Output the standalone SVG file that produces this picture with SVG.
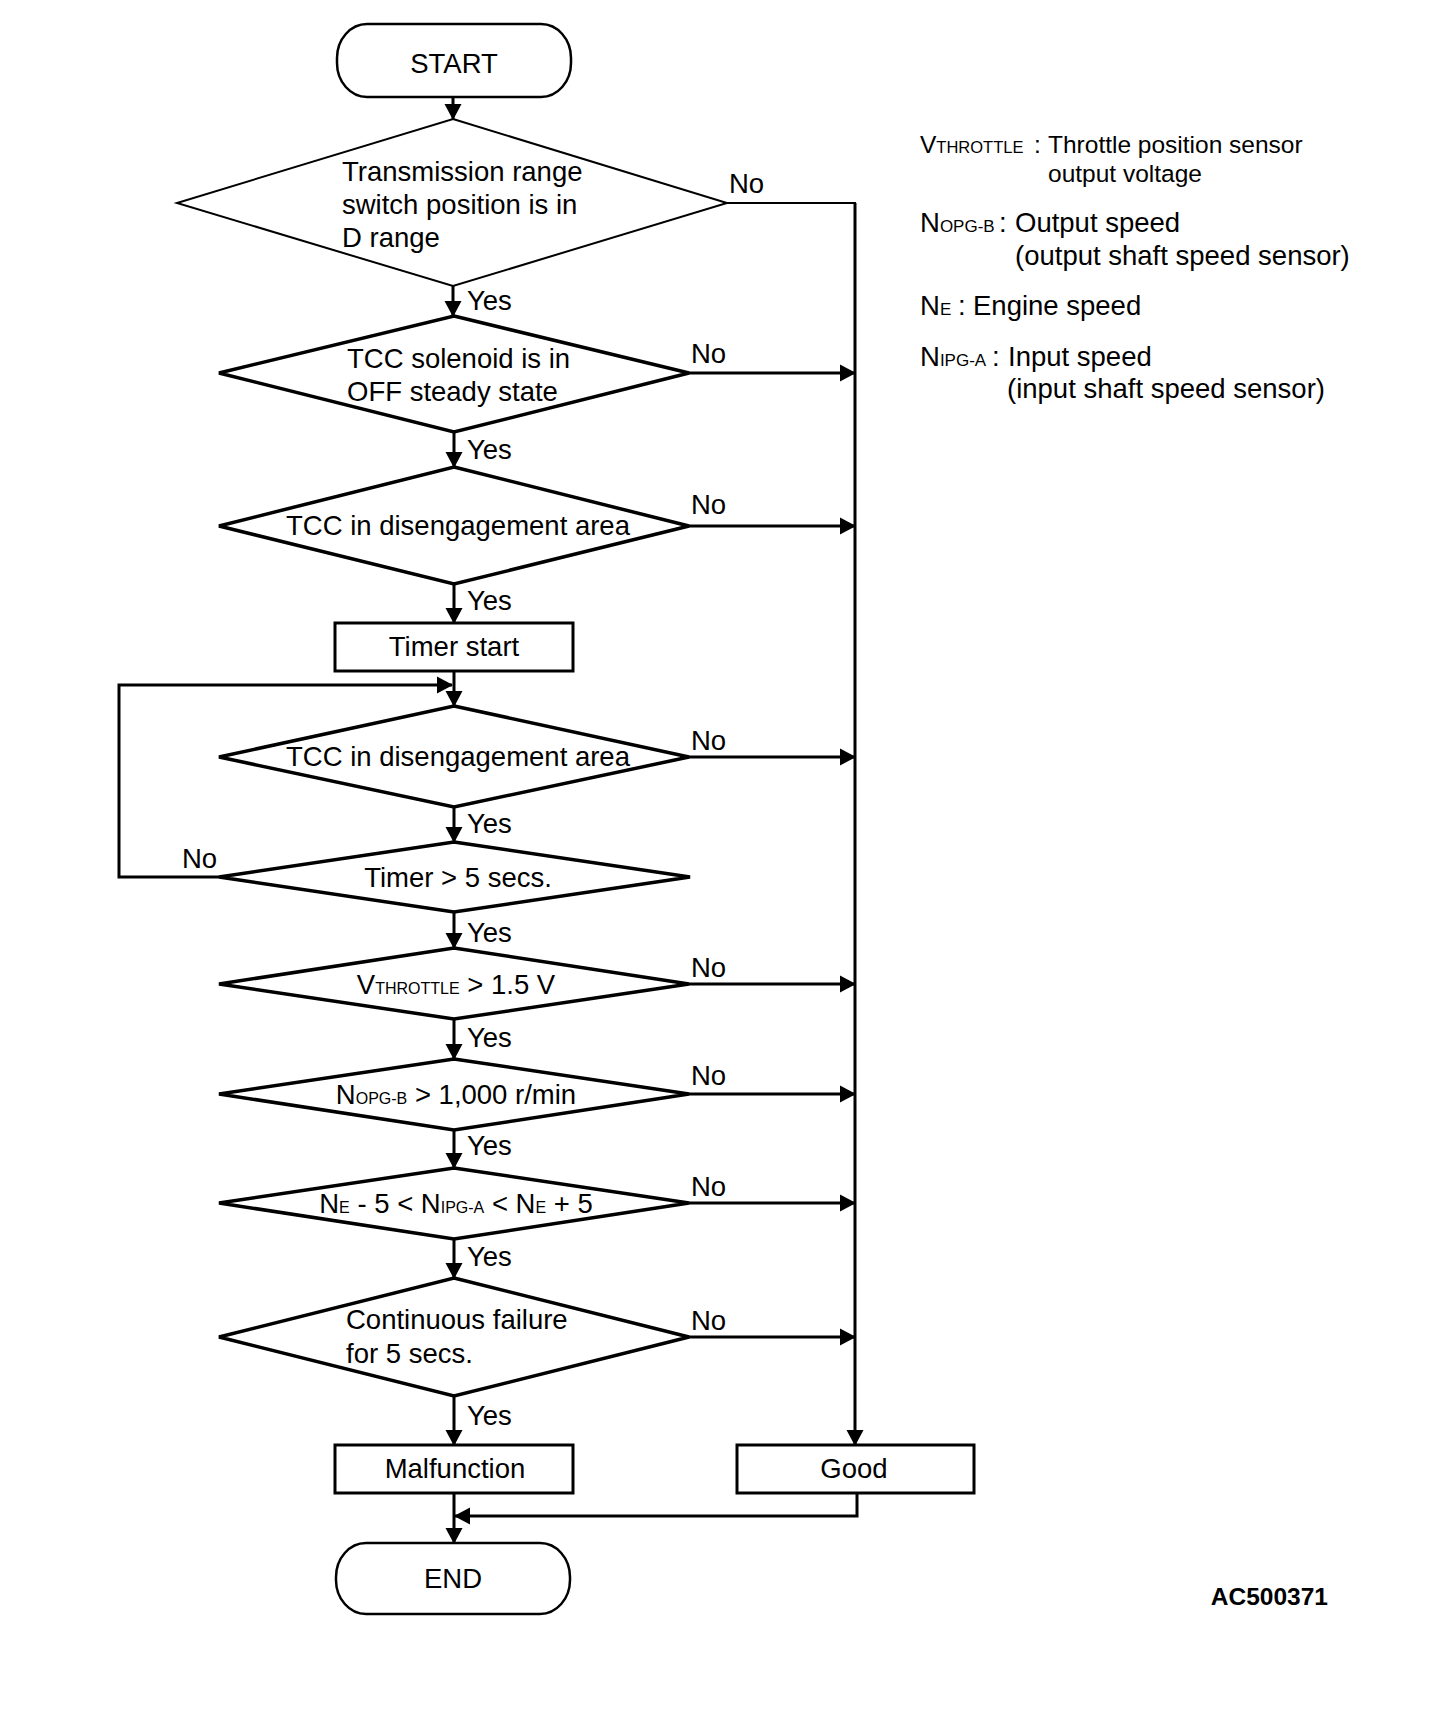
<svg xmlns="http://www.w3.org/2000/svg" width="1456" height="1728" viewBox="0 0 1456 1728">
<style>
  text { font-family: "Liberation Sans", Arial, Helvetica, sans-serif; fill: #000; }
  .t { font-size: 27.5px; }
  .c { text-anchor: middle; }
  .sub { font-size: 16px; }
  .term { fill: #fff; stroke: #000; stroke-width: 2.5; }
  .box { fill: #fff; stroke: #000; stroke-width: 3; }
  .dthin { fill: #fff; stroke: #000; stroke-width: 2; stroke-linejoin: miter; }
  .dthick { fill: #fff; stroke: #000; stroke-width: 3.5; stroke-linejoin: miter; }
  .ln { fill: none; stroke: #000; stroke-width: 3; }
  .ln2 { fill: none; stroke: #000; stroke-width: 2; }
  .arr { fill: none; stroke: #000; stroke-width: 3; marker-end: url(#ah); }
  .lg { font-size: 27.5px; }
  .lgs { font-size: 17px; }
</style>
<defs>
  <marker id="ah" markerUnits="userSpaceOnUse" markerWidth="18" markerHeight="18" refX="15" refY="9" orient="auto" viewBox="0 0 18 18">
    <path d="M0,0.5 L16,9 L0,17.5 z" fill="#000"/>
  </marker>
</defs>

<g id="connectors">
  <line class="arr" x1="453" y1="97" x2="453" y2="119"/>
  <line class="arr" x1="453" y1="286" x2="453" y2="316"/>
  <line class="arr" x1="454" y1="432" x2="454" y2="467"/>
  <line class="arr" x1="454" y1="584" x2="454" y2="623"/>
  <line class="arr" x1="454" y1="671" x2="454" y2="706"/>
  <line class="arr" x1="454" y1="807" x2="454" y2="842"/>
  <line class="arr" x1="454" y1="912" x2="454" y2="948"/>
  <line class="arr" x1="454" y1="1019" x2="454" y2="1059"/>
  <line class="arr" x1="454" y1="1130" x2="454" y2="1168"/>
  <line class="arr" x1="454" y1="1239" x2="454" y2="1278"/>
  <line class="arr" x1="454" y1="1396" x2="454" y2="1445"/>
  <line class="arr" x1="454" y1="1493" x2="454" y2="1543"/>
  <polyline class="ln2" points="727,203 855,203 855,215"/>
  <line class="arr" x1="855" y1="203" x2="855" y2="1445"/>
  <line class="arr" x1="689" y1="373" x2="855" y2="373"/>
  <line class="arr" x1="689" y1="526" x2="855" y2="526"/>
  <line class="arr" x1="689" y1="757" x2="855" y2="757"/>
  <line class="arr" x1="689" y1="984" x2="855" y2="984"/>
  <line class="arr" x1="689" y1="1094" x2="855" y2="1094"/>
  <line class="arr" x1="689" y1="1203" x2="855" y2="1203"/>
  <line class="arr" x1="689" y1="1337" x2="855" y2="1337"/>
  <polyline class="arr" points="219,877 119,877 119,685 452,685"/>
  <polyline class="arr" points="857,1493 857,1516 455,1516"/>
</g>

<g id="start">
  <rect class="term" x="337" y="24" width="234" height="73" rx="30" ry="34"/>
  <text class="t c" x="454" y="73">START</text>
</g>

<g id="d1">
  <polygon class="dthin" points="453,119 727,203 453,286 177,203"/>
  <text class="t" x="342" y="181">Transmission range</text>
  <text class="t" x="342" y="214">switch position is in</text>
  <text class="t" x="342" y="247">D range</text>
</g>

<g id="d2">
  <polygon class="dthick" points="454,316 689,373 454,432 219,373"/>
  <text class="t" x="347" y="368">TCC solenoid is in</text>
  <text class="t" x="347" y="401">OFF steady state</text>
</g>

<g id="d3">
  <polygon class="dthick" points="454,467 689,526 454,584 219,526"/>
  <text class="t c" x="458" y="535">TCC in disengagement area</text>
</g>

<g id="timerstart">
  <rect class="box" x="335" y="623" width="238" height="48"/>
  <text class="t c" x="454" y="656">Timer start</text>
</g>

<g id="d4">
  <polygon class="dthick" points="454,706 689,757 454,807 219,757"/>
  <text class="t c" x="458" y="766">TCC in disengagement area</text>
</g>

<g id="d5">
  <polygon class="dthick" points="454,842 690,877 454,912 219,877"/>
  <text class="t c" x="458" y="887">Timer &gt; 5 secs.</text>
</g>

<g id="d6">
  <polygon class="dthick" points="454,948 689,984 454,1019 219,984"/>
  <text class="t c" x="456" y="994">V<tspan class="sub">THROTTLE</tspan> &gt; 1.5 V</text>
</g>

<g id="d7">
  <polygon class="dthick" points="454,1059 689,1094 454,1130 219,1094"/>
  <text class="t c" x="456" y="1104">N<tspan class="sub">OPG-B</tspan> &gt; 1,000 r/min</text>
</g>

<g id="d8">
  <polygon class="dthick" points="454,1168 689,1203 454,1239 219,1203"/>
  <text class="t c" x="456" y="1213">N<tspan class="sub">E</tspan> - 5 &lt; N<tspan class="sub">IPG-A</tspan> &lt; N<tspan class="sub">E</tspan> + 5</text>
</g>

<g id="d9">
  <polygon class="dthick" points="454,1278 689,1337 454,1396 219,1337"/>
  <text class="t" x="346" y="1329">Continuous failure</text>
  <text class="t" x="346" y="1363">for 5 secs.</text>
</g>

<g id="malfunction">
  <rect class="box" x="335" y="1445" width="238" height="48"/>
  <text class="t c" x="455" y="1478">Malfunction</text>
</g>

<g id="good">
  <rect class="box" x="737" y="1445" width="237" height="48"/>
  <text class="t c" x="854" y="1478">Good</text>
</g>

<g id="end">
  <rect class="term" x="336" y="1543" width="234" height="71" rx="30" ry="34"/>
  <text class="t c" x="453" y="1588">END</text>
</g>

<g id="labels">
  <text class="t" x="467" y="310">Yes</text>
  <text class="t" x="467" y="459">Yes</text>
  <text class="t" x="467" y="610">Yes</text>
  <text class="t" x="467" y="833">Yes</text>
  <text class="t" x="467" y="942">Yes</text>
  <text class="t" x="467" y="1047">Yes</text>
  <text class="t" x="467" y="1155">Yes</text>
  <text class="t" x="467" y="1266">Yes</text>
  <text class="t" x="467" y="1425">Yes</text>
  <text class="t" x="729" y="193">No</text>
  <text class="t" x="691" y="363">No</text>
  <text class="t" x="691" y="514">No</text>
  <text class="t" x="691" y="750">No</text>
  <text class="t" x="691" y="977">No</text>
  <text class="t" x="691" y="1085">No</text>
  <text class="t" x="691" y="1196">No</text>
  <text class="t" x="691" y="1330">No</text>
  <text class="t" x="182" y="868">No</text>
</g>

<g id="legend">
  <text y="153"><tspan x="920" font-size="24.5">V</tspan><tspan font-size="16.5">THROTTLE</tspan><tspan x="1034" font-size="24.5">:</tspan><tspan x="1048" font-size="24.5">Throttle position sensor</tspan></text>
  <text x="1048" y="182" font-size="24.5">output voltage</text>
  <text y="232"><tspan x="920" class="lg">N</tspan><tspan class="lgs">OPG-B</tspan><tspan x="999" class="lg">:</tspan><tspan x="1015" class="lg">Output speed</tspan></text>
  <text x="1015" y="265" class="lg">(output shaft speed sensor)</text>
  <text y="315"><tspan x="920" class="lg">N</tspan><tspan class="lgs">E</tspan><tspan x="958" class="lg">:</tspan><tspan x="973" class="lg">Engine speed</tspan></text>
  <text y="366"><tspan x="920" class="lg">N</tspan><tspan class="lgs">IPG-A</tspan><tspan x="992" class="lg">:</tspan><tspan x="1008" class="lg">Input speed</tspan></text>
  <text x="1007" y="398" class="lg">(input shaft speed sensor)</text>
</g>

<text id="code" x="1328" y="1605" font-size="24.5" font-weight="bold" text-anchor="end">AC500371</text>
</svg>
